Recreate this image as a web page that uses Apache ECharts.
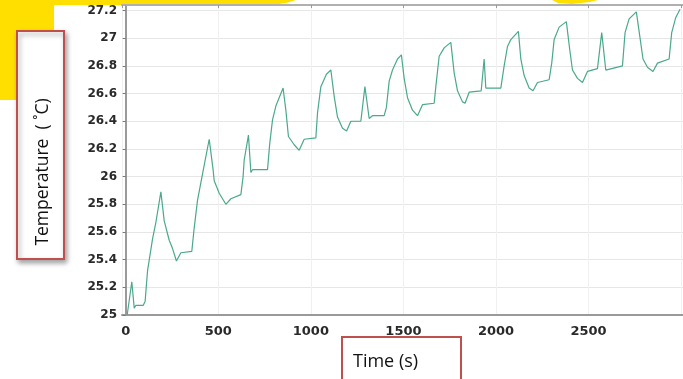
<!DOCTYPE html>
<html>
<head>
<meta charset="utf-8">
<script src="https://cdn.jsdelivr.net/npm/echarts@6/dist/echarts.min.js"></script>
<style>
  html, body { margin: 0; padding: 0; background: #fff; }
  #myLineChart { width: 683px; height: 379px; }
</style>
</head>
<body>
<div id="myLineChart"></div>
<script>
// time (s) and temperature
var timeValues = [8, 33, 46, 55, 95, 105, 118, 145, 163, 190, 208, 235, 253, 274, 298, 357, 370, 388, 415, 451,
    472, 478, 505, 541, 568, 622, 634, 640, 663, 676, 685, 766, 778, 793, 811, 850, 865, 879, 910, 937,
    964, 1027, 1036, 1054, 1084, 1108, 1126, 1144, 1171, 1193, 1216, 1270, 1292, 1315, 1333, 1396, 1408, 1423, 1441, 1468,
    1489, 1504, 1522, 1549, 1576, 1603, 1666, 1675, 1693, 1720, 1756, 1774, 1792, 1819, 1833, 1855, 1920, 1936, 1945, 2026,
    2044, 2062, 2080, 2121, 2134, 2152, 2179, 2200, 2224, 2287, 2301, 2314, 2341, 2380, 2398, 2413, 2440, 2467, 2494, 2548,
    2571, 2593, 2683, 2697, 2719, 2758, 2776, 2794, 2818, 2848, 2872, 2935, 2949, 2971, 2994];
var tempValues = [25.0, 25.24, 25.05, 25.07, 25.07, 25.1, 25.32, 25.55, 25.67, 25.89, 25.68, 25.54, 25.48, 25.39, 25.45, 25.46, 25.63, 25.83, 26.02, 26.27,
    26.05, 25.97, 25.88, 25.8, 25.84, 25.87, 26.0, 26.12, 26.3, 26.03, 26.05, 26.05, 26.24, 26.41, 26.51, 26.64, 26.48, 26.29, 26.23, 26.19,
    26.27, 26.28, 26.46, 26.65, 26.74, 26.77, 26.58, 26.43, 26.35, 26.33, 26.4, 26.4, 26.65, 26.42, 26.44, 26.44, 26.5, 26.69, 26.77, 26.85,
    26.88, 26.71, 26.57, 26.48, 26.44, 26.52, 26.53, 26.65, 26.87, 26.93, 26.97, 26.75, 26.62, 26.54, 26.53, 26.61, 26.62, 26.85, 26.64, 26.64,
    26.8, 26.94, 26.99, 27.05, 26.85, 26.73, 26.64, 26.62, 26.68, 26.7, 26.82, 26.99, 27.08, 27.12, 26.92, 26.77, 26.71, 26.68, 26.76, 26.78,
    27.04, 26.77, 26.8, 27.04, 27.14, 27.19, 27.02, 26.85, 26.79, 26.76, 26.82, 26.85, 27.04, 27.15, 27.21];
var xTickLabels = ["0", "500", "1000", "1500", "2000", "2500"];
var yAxisName = "Temperature  ( \u02daC)";
var xAxisName = "Time (s)";

var points = [];
for (var i = 0; i < timeValues.length; i++) {
    points.push([timeValues[i], tempValues[i]]);
}

var chart = echarts.init(document.getElementById("myLineChart"), null, {renderer: "canvas"});
var labelFont = "DejaVu Sans";
var option = {
    animation: false,
    backgroundColor: "#fff",
    grid: {left: 122, right: 0, top: 5, bottom: 64, outerBoundsMode: "none", containLabel: false},
    xAxis: [
        {
            type: "value",
            min: -20,
            max: 3010,
            splitNumber: 6,
            axisLine: {show: true, onZero: false, lineStyle: {color: "#9a9a9a", width: 2}},
            axisTick: {show: false},
            axisLabel: {
                showMinLabel: false, showMaxLabel: false,
                color: "#2a2a2a", fontFamily: labelFont, fontWeight: "bold", fontSize: 13, margin: 10,
                formatter: function (v) {
                    var s = String(v);
                    return xTickLabels.indexOf(s) >= 0 ? s : "";
                }
            },
            splitLine: {show: true, lineStyle: {color: "#f0f0f0", width: 1}}
        },
        {
            type: "value",
            position: "top",
            min: -20,
            max: 3010,
            splitNumber: 6,
            axisLine: {show: true, lineStyle: {color: "#b0b0b0", width: 2}},
            axisTick: {show: true, inside: true, length: 3, lineStyle: {color: "#999"}},
            axisLabel: {show: false},
            splitLine: {show: false}
        }
    ],
    yAxis: {
        type: "value",
        min: 25,
        max: 27.24,
        interval: 0.2,
        axisLine: {show: true, lineStyle: {color: "#9a9a9a", width: 2}},
        axisTick: {show: true, length: 3, lineStyle: {color: "#777"}},
        axisLabel: {
            showMaxLabel: false,
            color: "#2a2a2a", fontFamily: labelFont, fontWeight: "bold", fontSize: 12, margin: 5
        },
        splitLine: {show: true, lineStyle: {color: "#e6e6e6", width: 1}}
    },
    series: [
        {
            type: "line",
            xAxisIndex: 0,
            data: points,
            showSymbol: false,
            lineStyle: {color: "#4aa88c", width: 1.2},
            itemStyle: {color: "#4aa88c"}
        }
    ],
    graphic: [
        // yellow slide decoration behind the plot
        {type: "rect", z: -10, shape: {x: 0, y: 0, width: 54, height: 100}, style: {fill: "#ffdf00"}},
        {type: "polygon", z: -10, shape: {points: [[0, 0], [296, 0], [286, 3], [272, 5], [0, 5]]}, style: {fill: "#ffdf00"}},
        {type: "polygon", z: -10, shape: {points: [[552, 0], [598, 0], [590, 2], [572, 4], [558, 3]]}, style: {fill: "#ffdf00"}},
        // y axis title box
        {
            type: "rect", z: 100,
            shape: {x: 17, y: 31, width: 47, height: 228},
            style: {fill: "#fff", stroke: "#c0504d", lineWidth: 2,
                shadowBlur: 5, shadowOffsetX: 2, shadowOffsetY: 3, shadowColor: "rgba(0,0,0,0.35)"}
        },
        {
            type: "text", z: 101,
            x: 43, y: 172, rotation: Math.PI / 2,
            style: {text: yAxisName, fill: "#111", font: "17.5px 'Open Sans'", align: "center", verticalAlign: "middle"}
        },
        // x axis title box
        {
            type: "rect", z: 100,
            shape: {x: 342, y: 337, width: 119, height: 60},
            style: {fill: "#fff", stroke: "#c0504d", lineWidth: 2}
        },
        {
            type: "text", z: 101,
            x: 353, y: 362,
            style: {text: xAxisName, fill: "#111", font: "18px 'Open Sans'", align: "left", verticalAlign: "middle"}
        }
    ]
};
if (option && option.series) {
    chart.setOption(option);
}
</script>
</body>
</html>
